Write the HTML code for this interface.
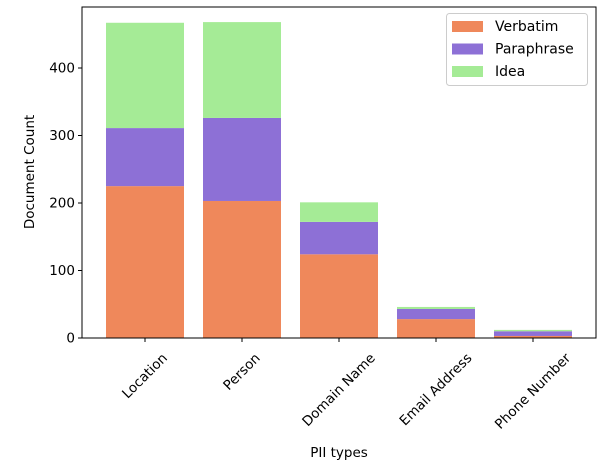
<!DOCTYPE html>
<html><head><meta charset="utf-8"><style>
body{margin:0;background:#fff;}
svg text{font-family:"DejaVu Sans","Liberation Sans",sans-serif;}
</style></head><body>
<svg id="chart" width="608" height="466" xmlns="http://www.w3.org/2000/svg">
<g id="bars"></g>
<g id="axes"></g>
</svg>
<script>
const categories=["Location","Person","Domain Name","Email Address","Phone Number"];
const verbatim=[225,203,124,28,3];
const paraphrase=[86,123,48,15,7];
const idea=[156,142,29,3,2];
const yTicks=[0,100,200,300,400];
const seriesNames=["Verbatim","Paraphrase","Idea"];
const colors=["#ef885b","#8d70d6","#a5eb96"];

const NS="http://www.w3.org/2000/svg";
const L=82,R=596,T=7,B=338;
const y=v=>B-v*0.675;
const x=i=>145+i*97;
const bw=78;
function mk(tag,attrs,parent){const e=document.createElementNS(NS,tag);for(const k in attrs)e.setAttribute(k,attrs[k]);parent.appendChild(e);return e;}
const bars=document.getElementById('bars'),axes=document.getElementById('axes');
const series=[verbatim,paraphrase,idea];
categories.forEach((c,i)=>{let base=0;series.forEach((s,k)=>{const r=mk('rect',{x:x(i)-bw/2,y:y(base+s[i]),width:bw,height:y(base)-y(base+s[i]),fill:colors[k]},bars);


base+=s[i];});});
const frame=mk('rect',{x:L,y:T,width:R-L,height:B-T,fill:'none',stroke:'#000','stroke-width':1},axes);


yTicks.forEach(t=>{mk('line',{x1:L-4,x2:L,y1:y(t),y2:y(t),stroke:'#000'},axes);
const tx=mk('text',{x:L-7,y:y(t)+4.5,'text-anchor':'end','font-size':13.5},axes);tx.textContent=t;

});
categories.forEach((c,i)=>{mk('line',{x1:x(i),x2:x(i),y1:B,y2:B+4,stroke:'#000'},axes);
const tx=mk('text',{x:0,y:0,'text-anchor':'middle','dominant-baseline':'central','font-size':13.5},axes);tx.textContent=c;
const len=tx.getComputedTextLength();
const cx=x(i), cy=B+13+(len+14)*0.707/2;
tx.setAttribute('x',cx);tx.setAttribute('y',cy);
tx.setAttribute('transform',`rotate(-45 ${cx} ${cy})`);

});
const yt=mk('text',{x:34,y:172,'text-anchor':'middle','font-size':13.5,transform:'rotate(-90 34 172)'},axes);yt.textContent='Document Count';


const xt=mk('text',{x:339,y:457,'text-anchor':'middle','font-size':13.5},axes);xt.textContent='PII types';


const lg=mk('g',{},axes);


mk('rect',{x:446.5,y:13.5,width:141,height:72,rx:3,fill:'#fff',stroke:'#ccc'},lg);
seriesNames.forEach((n,k)=>{mk('rect',{x:452,y:21+k*22.5,width:31,height:11,fill:colors[k]},lg);
const t=mk('text',{x:495,y:31+k*22.5,'font-size':14},lg);t.textContent=n;

});
</script>
</body></html>
